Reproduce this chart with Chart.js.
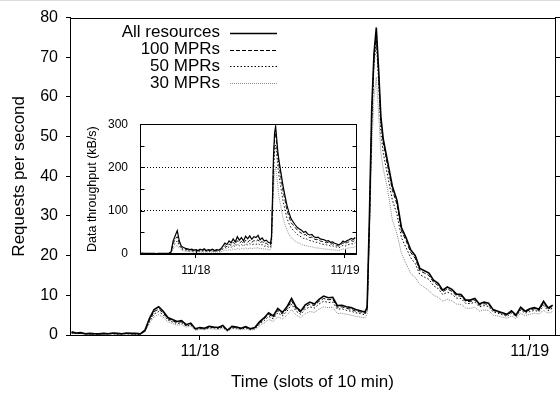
<!DOCTYPE html>
<html><head><meta charset="utf-8">
<script src="https://cdn.jsdelivr.net/npm/chart.js@4.4.1/dist/chart.umd.min.js"></script>
<style>
html,body{margin:0;padding:0;background:#fff;}
#wrap{position:relative;width:560px;height:393px;overflow:hidden;}
#main{position:absolute;left:0;top:0;width:560px;height:393px;}
#inset{position:absolute;left:85px;top:105px;width:280px;height:180px;}
</style></head><body>
<div id="wrap"><canvas id="main" width="560" height="393"></canvas><canvas id="inset" width="280" height="180"></canvas></div>
<script>
// ---- categories: time slots (10 min each), 0 = start of 11/18 ----
const slots = [-56,-54,-52,-50,-48,-46,-44,-42,-40,-38,-36,-34,-32,-30,-28,-26,
-24,-22,-20,-18,-16,-14,-12,-10,-8,-6,-4,-2,0,2,4,6,8,10,12,14,16,18,20,22,24,26,28,30,32,34,36,38,40,42,44,46,48,50,52,54,56,58,60,62,64,66,68,70,72,
73,74,75,76,77,78,79,80,
82,84,86,88,90,92,94,96,98,100,102,104,106,108,110,112,114,116,118,120,122,124,126,128,130,132,134,136,138,140,142,144,146,148,150,152,154];

// ---- tick labels ----
const dayTicks = [0, 144];
const dayLabels = ['11/18', '11/19'];
const seriesLabels = ['All resources', '100 MPRs', '50 MPRs', '30 MPRs'];

// ---- main chart: requests per second ----
const reqAll = [0.8,0.5,0.6,0.3,0.4,0.3,0.3,0.4,0.3,0.5,0.4,0.3,0.5,0.4,0.4,0.3,
1.2,4.2,6.4,7.1,6.0,4.4,3.9,3.4,3.6,2.6,3.0,1.6,1.9,1.7,2.2,2.0,1.9,2.4,1.2,2.2,2.0,1.7,2.1,1.6,1.9,3.3,4.3,5.6,4.8,6.7,5.7,7.1,9.2,7.0,6.0,7.6,8.3,7.8,9.0,9.8,9.4,9.5,7.4,7.5,7.1,6.9,6.4,6.1,5.8,
7.0,30,57,71,77.5,67,55,49.5,
43.5,37.5,34,27,24.5,21.5,20,16.8,16.2,15.6,13.8,13.0,11.3,12.1,11.5,10.3,10.2,8.8,8.8,9.2,7.8,8.3,8.0,6.4,6.0,5.6,5.2,6.1,5.0,7.0,6.0,6.6,6.9,6.5,8.5,6.8,7.5];
const req100 = [0.6,0.4,0.5,0.3,0.3,0.3,0.2,0.4,0.3,0.4,0.3,0.3,0.4,0.3,0.3,0.3,
1.0,3.8,5.9,6.5,5.6,4.1,3.6,3.2,3.3,2.5,2.7,1.5,1.8,1.6,2.0,1.9,1.8,2.2,1.2,2.0,1.9,1.6,2.0,1.5,1.8,3.0,4.0,5.2,4.5,6.2,5.3,6.6,8.6,6.6,5.7,7.1,7.8,7.4,8.5,9.2,8.9,9.0,7.0,7.1,6.7,6.5,6.0,5.8,5.5,
6.6,28,55,70,76,66,54,48.5,
42.5,36.5,33,26.2,23.8,20.8,19.3,16.2,15.6,15.0,13.3,12.5,10.9,11.6,11.0,9.9,9.8,8.5,8.4,8.8,7.5,7.9,7.7,6.2,5.8,5.4,5.0,5.8,4.9,6.7,5.8,6.3,6.6,6.2,8.0,6.5,7.2];
const req50 = [0.5,0.4,0.4,0.3,0.3,0.2,0.2,0.3,0.3,0.3,0.2,0.3,0.3,0.3,0.2,0.2,
0.9,3.4,5.3,5.9,5.1,3.8,3.3,2.9,3.0,2.3,2.5,1.4,1.6,1.5,1.8,1.8,1.6,2.0,1.1,1.8,1.7,1.5,1.8,1.4,1.6,2.7,3.6,4.7,4.1,5.6,4.8,6.0,7.8,6.0,5.2,6.5,7.1,6.8,7.8,8.5,8.2,8.3,6.5,6.6,6.2,6.0,5.6,5.4,5.1,
6.2,27,53,68,74,64,51,46,
40,34,30.5,24.5,22,19.5,18,15.2,14.6,14.0,12.4,11.7,10.2,10.8,10.3,9.3,9.2,8.0,7.9,8.3,7.1,7.4,7.2,5.8,5.5,5.1,4.7,5.5,4.6,6.3,5.5,5.9,6.2,5.9,7.4,6.1,6.8];
const req30 = [0.4,0.3,0.3,0.2,0.2,0.2,0.2,0.2,0.2,0.3,0.2,0.2,0.2,0.2,0.2,0.2,
0.8,3.0,4.6,5.1,4.5,3.3,2.9,2.5,2.6,2.0,2.2,1.2,1.4,1.3,1.6,1.5,1.4,1.7,0.9,1.6,1.5,1.3,1.5,1.2,1.4,2.3,3.0,3.9,3.4,4.6,4.0,5.0,6.4,5.0,4.4,5.4,5.9,5.7,6.5,7.1,6.9,7.0,5.4,5.5,5.2,5.0,4.7,4.5,4.3,
5.3,24,47,60,65,56,46,42,
36.5,29,25.5,20.5,18,15.5,14.5,12.8,12.0,11.2,10.0,9.5,8.5,9.0,8.6,7.8,7.7,6.8,6.7,7.0,6.0,6.3,6.2,5.0,4.8,4.5,4.2,4.8,4.1,5.5,4.9,5.2,5.5,5.3,6.2,5.5,5.9];

// ---- inset: data throughput (kB/s) ----
const kbAll = [1.5,1.2,1.8,1.4,1.5,1.3,1.6,1.4,1.5,1.2,1.7,1.4,1.5,1.3,1.6,1.5,
5,30,42,54,30,18,15,13,12,10,11,9,10,8,11,9,12,8,10,9,11,8,10,9,12,18,25,22,30,26,35,28,40,32,38,30,41,35,42,34,40,38,43,33,37,30,32,27,25,
40,130,230,280,295,268,240,220,
190,160,135,112,95,81,74,67,61,58,55,50,52,46,44,45,40,38,39,35,34,33,30,31,27,28,25,23,21,24,30,27,31,33,36,34,38];
const kb100 = [1.2,1.0,1.4,1.1,1.2,1.0,1.3,1.1,1.2,1.0,1.3,1.1,1.2,1.0,1.3,1.2,
4,24,34,40,24,15,12,11,10,8,9,8,8,7,9,8,10,7,8,8,9,7,8,8,10,14,19,17,23,20,27,22,31,25,29,24,32,27,32,27,31,29,33,26,29,24,25,21,20,
32,120,215,265,280,255,228,208,
178,148,125,100,86,72,67,61,55,51,48,44,45,40,38,39,35,33,34,30,29,28,26,27,23,24,21,20,18,21,26,23,27,28,31,29,33];
const kb50 = [1.0,0.9,1.1,0.9,1.0,0.9,1.1,1.0,1.0,0.9,1.1,1.0,1.0,0.9,1.1,1.0,
3,18,25,30,19,12,10,9,8,7,7,6,7,6,7,6,8,6,7,6,7,6,7,6,8,11,15,13,17,15,20,17,23,19,22,18,24,21,24,21,23,22,25,20,22,18,19,16,15,
25,105,190,238,252,232,205,185,
155,125,103,82,70,60,55,50,45,42,39,36,36,33,31,31,28,27,27,24,23,22,21,21,18,19,17,16,14,17,20,18,21,22,24,23,26];
const kb30 = [0.8,0.7,0.9,0.8,0.8,0.7,0.9,0.8,0.8,0.7,0.9,0.8,0.8,0.7,0.9,0.8,
2,12,17,20,14,9,7,6,6,5,5,4,5,4,5,4,5,4,5,4,5,4,5,4,5,7,9,8,10,9,12,10,13,11,13,11,14,12,14,12,14,13,15,12,13,11,12,10,10,
16,80,150,188,200,182,160,135,
110,85,68,55,45,38,33,30,27,25,22,20,20,18,17,17,15,14,14,13,12,12,11,11,10,10,9,9,8,10,12,11,13,14,15,15,17];

const FONT = '"Liberation Sans", Arial, Helvetica, sans-serif';
Chart.defaults.font.family = FONT;
Chart.defaults.color = '#000';

const styles = [
  {color:'#000', main:1.6, inset:1.2, dash:[]},
  {color:'#000', main:1, inset:0.9, dash:[4,2]},
  {color:'#000', main:1, inset:0.9, dash:[1.5,2]},
  {color:'#888', main:1, inset:0.9, dash:[1,1]}
];
const mainValues = [reqAll, req100, req50, req30];
const insetValues = [kbAll, kb100, kb50, kb30];

function makeDatasets(values, key){
  return values.map((arr, k) => ({
    label: seriesLabels[k],
    data: slots.map((s, i) => ({x: s, y: arr[i]})),
    borderColor: styles[k].color,
    borderWidth: styles[k][key],
    borderDash: styles[k].dash,
    pointRadius: 0, fill: false, tension: 0
  }));
}

const topLinePlugin = {
  id: 'topline',
  afterDraw(chart){
    const {ctx, chartArea: a} = chart;
    ctx.save();
    ctx.fillStyle = '#dcdcdc';
    ctx.fillRect(0, 0, chart.width, 1);
    ctx.strokeStyle = '#000'; ctx.lineWidth = 1;
    ctx.beginPath();
    ctx.moveTo(a.left, Math.round(a.top) + 0.5);
    ctx.lineTo(a.right, Math.round(a.top) + 0.5);
    ctx.stroke();
    ctx.restore();
  }
};

const legendPlugin = {
  id: 'gpLegend',
  afterDatasetsDraw(chart){
    const {ctx, chartArea: a} = chart;
    ctx.save();
    ctx.font = '17px ' + FONT;
    ctx.textAlign = 'right';
    ctx.textBaseline = 'middle';
    ctx.fillStyle = '#000';
    chart.data.datasets.forEach((ds, i) => {
      const y = a.top + 15 + i * 16.9;
      ctx.fillText(ds.label, a.left + 150, y);
      ctx.beginPath();
      ctx.strokeStyle = ds.borderColor;
      ctx.lineWidth = ds.borderWidth;
      ctx.setLineDash(ds.borderDash);
      ctx.moveTo(a.left + 160, Math.round(y) + 0.5);
      ctx.lineTo(a.left + 207, Math.round(y) + 0.5);
      ctx.stroke();
    });
    ctx.restore();
  }
};

const insetFramePlugin = {
  id: 'insetFrame',
  afterDraw(chart){
    const {ctx, chartArea: a} = chart;
    const ys = chart.scales.y;
    ctx.save();
    ctx.strokeStyle = '#000'; ctx.lineWidth = 1;
    const L = Math.round(a.left) + 0.5, R = Math.round(a.right) - 0.5;
    const T = Math.round(a.top) + 0.5, B = Math.round(a.bottom) - 0.5;
    ctx.strokeRect(L, T, R - L, B - T);
    ctx.beginPath();
    ys.ticks.forEach(t => {
      const p = Math.round(ys.getPixelForValue(t.value)) + 0.5;
      ctx.moveTo(L, p); ctx.lineTo(L + 4, p);
      ctx.moveTo(R, p); ctx.lineTo(R - 4, p);
    });
    const xs = chart.scales.x;
    xs.ticks.forEach(t => {
      const p = Math.round(xs.getPixelForValue(t.value)) + 0.5;
      ctx.moveTo(p, B); ctx.lineTo(p, B - 4);
    });
    ctx.stroke();
    ctx.restore();
  }
};

const dayTickFn = sc => { sc.ticks = dayTicks.map(v => ({value: v})); };
const dayLabelFn = v => { const i = dayTicks.indexOf(v); return i >= 0 ? dayLabels[i] : ''; };

new Chart(document.getElementById('main'), {
  type: 'line',
  data: {datasets: makeDatasets(mainValues, 'main')},
  options: {
    responsive: false, animation: false,
    layout: {padding: {top: 16, right: 0, left: 0, bottom: 0}},
    plugins: {legend: {display: false}, tooltip: {enabled: false}},
    scales: {
      x: {
        type: 'linear', min: -56.7, max: 155,
        afterBuildTicks: dayTickFn,
        afterFit: sc => { sc.height = 58; },
        ticks: {callback: dayLabelFn, font: {size: 16}, color: '#000', padding: 2, maxRotation: 0, autoSkip: false},
        grid: {drawOnChartArea: false, drawTicks: true, tickLength: 5, color: '#000'},
        border: {display: true, color: '#000', width: 1},
        title: {display: true, text: 'Time (slots of 10 min)', font: {size: 17}, color: '#000', padding: {top: 0, bottom: 0}}
      },
      y: {
        min: 0, max: 80,
        afterFit: sc => { sc.width = 70; },
        ticks: {stepSize: 10, font: {size: 16}, color: '#000', padding: 8},
        grid: {drawOnChartArea: false, tickLength: 4, color: '#000'},
        border: {display: true, color: '#000', width: 1},
        title: {display: true, text: 'Requests per second', font: {size: 17}, color: '#000', padding: {top: 9, bottom: 0}}
      },
      y2: {
        position: 'right', min: 0, max: 80,
        afterFit: sc => { sc.width = 5; },
        ticks: {stepSize: 10, display: false},
        grid: {drawOnChartArea: false, tickLength: 5, color: '#000'},
        border: {display: true, color: '#000', width: 1}
      }
    }
  },
  plugins: [topLinePlugin, legendPlugin]
});

new Chart(document.getElementById('inset'), {
  type: 'line',
  data: {datasets: makeDatasets(insetValues, 'inset')},
  options: {
    responsive: false, animation: false,
    layout: {padding: {top: 11, right: 8, left: 0, bottom: 0}},
    plugins: {legend: {display: false}, tooltip: {enabled: false}},
    scales: {
      x: {
        type: 'linear', min: -54, max: 155.6,
        afterBuildTicks: dayTickFn,
        afterFit: sc => { sc.height = 31; },
        ticks: {callback: dayLabelFn, font: {size: 12}, color: '#000', padding: 5, maxRotation: 0, autoSkip: false},
        grid: {drawOnChartArea: false, drawTicks: true, tickLength: 4, color: '#000'},
        border: {display: true, color: '#000', width: 1}
      },
      y: {
        min: 0, max: 300,
        afterFit: sc => { sc.width = 55; },
        ticks: {stepSize: 50, font: {size: 12}, color: '#000', padding: 12,
                callback: v => (v % 100 === 0 ? String(v) : '')},
        grid: {drawOnChartArea: true, drawTicks: false, lineWidth: 1,
               color: c => (c.tick && (c.tick.value === 100 || c.tick.value === 200)) ? '#000' : 'rgba(0,0,0,0)'},
        border: {display: true, color: '#000', width: 1, dash: [1, 2]},
        title: {display: true, text: 'Data throughput (kB/s)', font: {size: 12.5}, color: '#000', padding: {top: 0, bottom: 0}}
      }
    }
  },
  plugins: [insetFramePlugin]
});
</script>
</body></html>
